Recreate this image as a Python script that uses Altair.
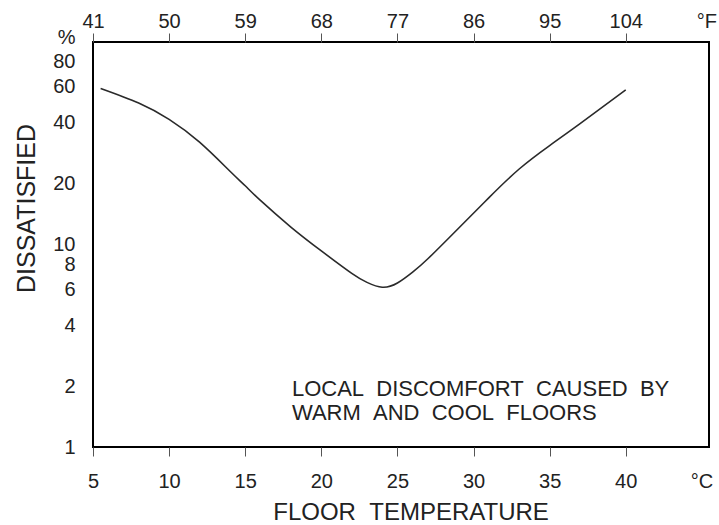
import altair as alt
import pandas as pd

# Floor temperature (°C) and percentage of people dissatisfied
temp_c = [5.5, 8, 10, 12, 14, 15, 16, 18, 20, 22, 23, 24, 25, 26, 27, 29, 31, 33, 35, 37, 40]
dissatisfied = [59, 50, 41.5, 32, 23, 19.5, 16.5, 12.2, 9.3, 7.2, 6.5, 6.15, 6.45, 7.3, 8.5,
                12, 17, 23.6, 30.8, 39.5, 58]

c_ticks = [5, 10, 15, 20, 25, 30, 35, 40]
y_ticks = [1, 2, 4, 6, 8, 10, 20, 40, 60, 80, 100]

# unit labels sit at the far right of each horizontal axis
c_unit_pos = 44.97
f_unit_pos = 45.3

SP = "\u00a0\u00a0"  # wide word gap that survives SVG whitespace collapsing
note_lines = [SP.join(["LOCAL", "DISCOMFORT", "CAUSED", "BY"]),
              SP.join(["WARM", "AND", "COOL", "FLOORS"])]
note_x, note_y = 18.07, 1.78

df = pd.DataFrame({"temp": temp_c, "ppd": dissatisfied})

FONT = "Liberation Sans"
INK = "#222222"

x_scale = alt.Scale(domain=[5, 45.47], nice=False, zero=False)
y_scale = alt.Scale(type="log", domain=[1, 100], nice=False)

hide_unit_tick = {"condition": {"test": "datum.value > 41", "value": 0}, "value": 1}

bottom_axis = alt.Axis(
    orient="bottom",
    values=c_ticks + [c_unit_pos],
    labelExpr="datum.value > 41 ? '°C' : datum.label",
    title=SP.join(["FLOOR", "TEMPERATURE"]),
    titleFont=FONT, titleFontSize=24, titleFontWeight="normal", titleColor=INK,
    titleX=317.5, titleY=72, titleAlign="center", titleBaseline="alphabetic",
    labelFont=FONT, labelFontSize=20, labelColor=INK,
    labelPadding=15, labelFlush=False, labelOverlap=False, labelBound=False,
    tickSize=9, tickColor="#555555", tickWidth=1, tickOpacity=hide_unit_tick,
    domain=False, grid=False,
)

top_axis = alt.Axis(
    orient="top",
    values=c_ticks + [f_unit_pos],
    labelExpr="datum.value > 41 ? '°F' : format(datum.value * 9 / 5 + 32, 'd')",
    title=None,
    labelFont=FONT, labelFontSize=20, labelColor=INK,
    labelPadding=2, labelFlush=False, labelOverlap=False, labelBound=False,
    tickSize=9, tickColor="#555555", tickWidth=1, tickOpacity=hide_unit_tick,
    domain=False, grid=False,
)

left_axis = alt.Axis(
    orient="left",
    values=y_ticks,
    labelExpr="datum.value == 100 ? '%' : datum.value",
    labelOffset={"condition": {"test": "datum.value == 100", "value": -5}, "value": 0},
    title="DISSATISFIED",
    titleFont=FONT, titleFontSize=25, titleFontWeight="normal", titleColor=INK,
    titleAngle=270, titleX=-67, titleY=166, titleAlign="center", titleBaseline="middle",
    labelFont=FONT, labelFontSize=20, labelColor=INK,
    labelPadding=18, labelFlush=False, labelOverlap=False, labelBound=False,
    tickSize=0, ticks=False, domain=False, grid=False,
)

curve = alt.Chart(df).mark_line(
    color="#2a2a2a", strokeWidth=1.6, interpolate="natural"
).encode(
    x=alt.X("temp:Q", scale=x_scale, axis=bottom_axis),
    y=alt.Y("ppd:Q", scale=y_scale, axis=left_axis),
)

# same curve, transparent, only to carry the Fahrenheit axis on top
top_carrier = alt.Chart(df).mark_line(opacity=0).encode(
    x=alt.X("temp:Q", scale=x_scale, axis=top_axis),
    y=alt.Y("ppd:Q", scale=y_scale, axis=None),
)

note = alt.Chart(pd.DataFrame({"t": [0]})).mark_text(
    text=note_lines, align="left", baseline="alphabetic",
    font=FONT, fontSize=22, color=INK, lineHeight=23.3,
).encode(
    x=alt.XDatum(note_x, scale=x_scale, axis=None),
    y=alt.YDatum(note_y, scale=y_scale, axis=None),
)

chart = alt.layer(curve, top_carrier, note).resolve_axis(
    x="independent", y="independent"
).properties(
    width=616, height=405,
    autosize="none",
    padding={"left": 93, "top": 42, "right": 10, "bottom": 78},
    background="white",
).configure_view(
    stroke="black", strokeWidth=2
)

chart.save("out.html", embed_options={"renderer": "svg", "actions": False})
